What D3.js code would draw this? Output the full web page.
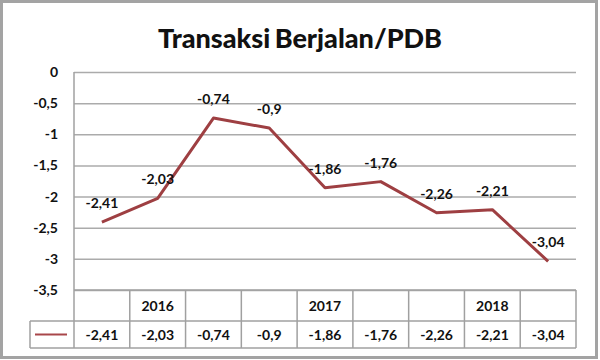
<!DOCTYPE html>
<html>
<head>
<meta charset="utf-8">
<script src="https://cdn.jsdelivr.net/npm/d3@7"></script>
<style>
  body { margin: 0; background: #fff; }
  svg { display: block; font-family: Lato, "Open Sans", sans-serif; }
</style>
</head>
<body>
<svg id="chart" width="600" height="360"></svg>
<script>
// data
const title = 'Transaksi Berjalan/PDB';
const categories = ['', '2016', '', '', '2017', '', '', '2018', ''];
const values = [-2.41, -2.03, -0.74, -0.9, -1.86, -1.76, -2.26, -2.21, -3.04];
const yTicks = [0, -0.5, -1, -1.5, -2, -2.5, -3, -3.5];

const svg = d3.select('#chart');

// koma sebagai desimal
const locale = d3.formatLocale({decimal: ',', thousands: '.', grouping: [3], currency: ['', ''], minus: '-'});
const fmt = locale.format('');

const plotLeft = 74, plotRight = 576, plotTop = 72, plotBottom = 290;
const rowMid = 321, rowBottom = 348, legendLeft = 30;

const x = d3.scaleBand().domain(d3.range(values.length)).range([plotLeft, plotRight]);
const y = d3.scaleLinear().domain([-3.5, 0]).range([plotBottom, plotTop]);

// bingkai luar
svg.append('rect')
  .attr('x', 1.5).attr('y', 1.5)
  .attr('width', 595).attr('height', 356)
  .attr('fill', '#fff')
  .attr('stroke', '#a3a3a3')
  .attr('stroke-width', 3);

svg.append('text')
  .attr('x', 300).attr('y', 48)
  .attr('text-anchor', 'middle')
  .style('font-size', '27px')
  .style('font-weight', '900')
  .style('word-spacing', '-2px')
  .attr('fill', '#111')
  .text(title);

// sumbu y + gridline
const yAxis = svg.append('g')
  .attr('transform', `translate(${plotLeft},0)`)
  .call(d3.axisLeft(y).tickValues(yTicks).tickSize(-(plotRight - plotLeft)).tickPadding(16).tickFormat(fmt));
yAxis.select('.domain').remove();
yAxis.selectAll('.tick line').attr('stroke', '#ababab').attr('stroke-width', 1.5);
yAxis.selectAll('.tick text')
  .attr('fill', '#111')
  .style('font-size', '14px')
  .style('font-weight', 'bold')
  .style('font-family', 'Lato, sans-serif');

// tabel data di bawah
const grid = svg.append('g').attr('stroke', '#a0a0a0').attr('stroke-width', 1.5).attr('fill', 'none');
grid.append('line').attr('x1', plotLeft).attr('x2', plotLeft).attr('y1', plotTop).attr('y2', rowBottom);
d3.range(1, values.length + 1).forEach((i) => {
  let xx = plotLeft + i * x.bandwidth();
  grid.append('line').attr('x1', xx).attr('x2', xx).attr('y1', plotBottom).attr('y2', rowBottom);
});
grid.append('line').attr('x1', plotLeft).attr('x2', plotRight).attr('y1', plotBottom).attr('y2', plotBottom);
grid.append('line').attr('x1', legendLeft).attr('x2', plotRight).attr('y1', rowMid).attr('y2', rowMid);
grid.append('line').attr('x1', legendLeft).attr('x2', plotRight).attr('y1', rowBottom).attr('y2', rowBottom);
grid.append('line').attr('x1', legendLeft).attr('x2', legendLeft).attr('y1', rowMid).attr('y2', rowBottom);

const cellText = svg.append('g')
  .attr('text-anchor', 'middle')
  .attr('fill', '#111')
  .style('font-size', '14px')
  .style('font-weight', 'bold');

cellText.selectAll('.cat')
  .data(categories)
  .join('text')
  .attr('class', 'cat')
  .attr('x', (d, i) => x(i) + x.bandwidth() / 2)
  .attr('y', (plotBottom + rowMid) / 2 + 5)
  .text((d) => d);

cellText.selectAll('.val')
  .data(values)
  .join('text')
  .attr('class', 'val')
  .attr('x', (d, i) => x(i) + x.bandwidth() / 2)
  .attr('y', (rowMid + rowBottom) / 2 + 5)
  .text((d) => fmt(d));

// kunci legenda
svg.append('line')
  .attr('x1', 35).attr('x2', 67)
  .attr('y1', (rowMid + rowBottom) / 2).attr('y2', (rowMid + rowBottom) / 2)
  .attr('stroke', '#a8474a').attr('stroke-width', 2);

// garis
const line = d3.line()
  .x((d, i) => x(i) + x.bandwidth() / 2)
  .y((d) => y(d));

svg.append('path')
  .datum(values)
  .attr('d', line)
  .attr('fill', 'none')
  .attr('stroke', '#9e3f42')
  .attr('stroke-width', 3)
  .attr('stroke-linejoin', 'round');

// label data
svg.append('g')
  .attr('text-anchor', 'middle')
  .attr('fill', '#111')
  .style('font-size', '14px')
  .style('font-weight', 'bold')
  .selectAll('text')
  .data(values)
  .join('text')
  .attr('x', (d, i) => x(i) + x.bandwidth() / 2)
  .attr('y', (d) => y(d) - 14)
  .text((d) => fmt(d));
</script>
</body>
</html>
